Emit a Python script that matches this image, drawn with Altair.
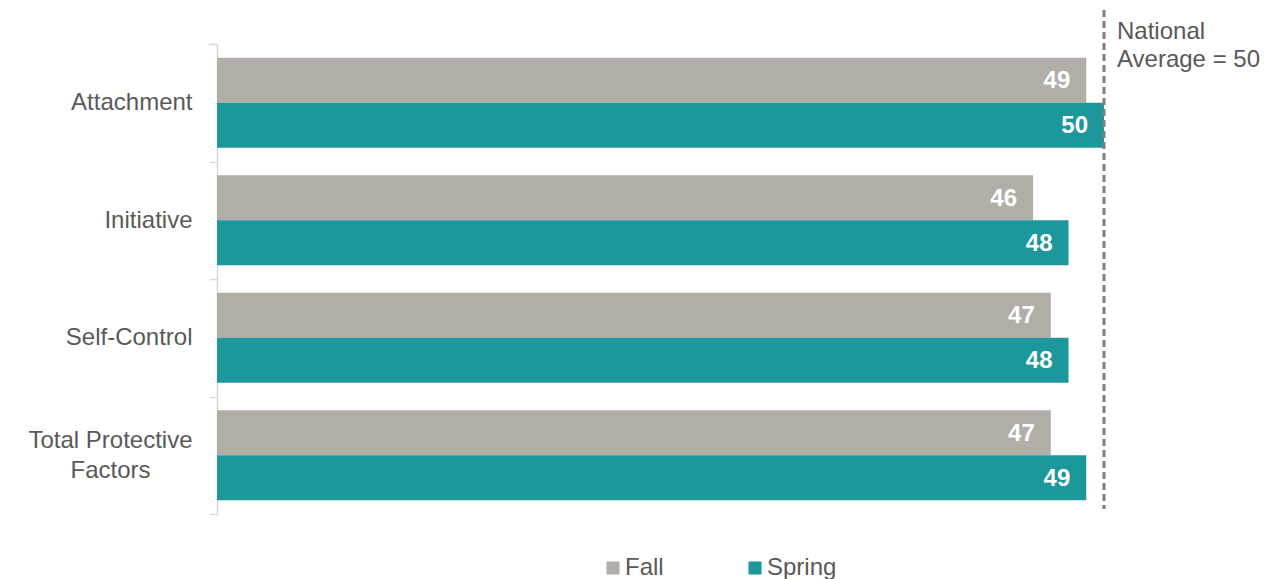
import altair as alt
import pandas as pd

categories = ["Attachment", "Initiative", "Self-Control", "Total Protective Factors"]
fall = [49, 46, 47, 47]
spring = [50, 48, 48, 49]
seasons = ["Fall", "Spring"]
national_average = 50

rows = []
for c, f, s in zip(categories, fall, spring):
    rows.append({"category": c, "season": "Fall", "value": f})
    rows.append({"category": c, "season": "Spring", "value": s})
df = pd.DataFrame(rows)
ref = pd.DataFrame({"avg": [national_average], "label": [["National", "Average = 50"]]})

FONT = "Liberation Sans"
GRAY_TXT = "#595959"
MULTI = "datum.value == 'Total Protective Factors'"

y_enc = alt.Y(
    "category:N",
    sort=categories,
    title=None,
    scale=alt.Scale(paddingInner=0, paddingOuter=0),
    axis=alt.Axis(
        tickBand="extent",
        domainColor="#d9d9d9",
        domainWidth=1.5,
        tickColor="#d9d9d9",
        tickWidth=1.5,
        tickSize=8,
        labelFontSize=24,
        labelFont=FONT,
        labelColor=GRAY_TXT,
        labelAlign={"condition": {"test": MULTI, "value": "center"}, "value": "right"},
        labelPadding={"condition": {"test": MULTI, "value": 99}, "value": 17},
        labelOffset={"condition": {"test": MULTI, "value": -15}, "value": 0},
        labelLineHeight=30,
        labelLimit=400,
        labelExpr="datum.label == 'Total Protective Factors' ? ['Total Protective', 'Factors'] : datum.label",
    ),
)
yoff = alt.YOffset("season:N", sort=seasons, scale=alt.Scale(paddingInner=0, paddingOuter=0.3056))
x_enc = alt.X("value:Q", scale=alt.Scale(domain=[0, 50], nice=False, zero=True), axis=None, title=None)

bars = alt.Chart(df).mark_bar().encode(
    x=x_enc,
    y=y_enc,
    yOffset=yoff,
    color=alt.Color(
        "season:N",
        sort=seasons,
        scale=alt.Scale(domain=seasons, range=["#b1ada7", "#1c979b"]),
        legend=alt.Legend(
            title=None,
            orient="none",
            direction="horizontal",
            legendX=384,
            legendY=512,
            symbolType="square",
            symbolSize=170,
            symbolStrokeWidth=0,
            labelFontSize=24,
            labelFont=FONT,
            labelColor=GRAY_TXT,
            labelOffset=0,
            columnPadding=79,
        ),
    ),
)

labels = alt.Chart(df).mark_text(
    align="right", baseline="middle", dx=-16, dy=1, color="white",
    fontWeight="bold", fontSize=24, font=FONT
).encode(x="value:Q", y=alt.Y("category:N", sort=categories), yOffset=yoff, text="value:Q")

rule = alt.Chart(ref).mark_rule(color="#7f7f7f", strokeWidth=3, strokeDash=[7, 4]).encode(
    x="avg:Q", y=alt.value(-34), y2=alt.value(465)
)
ref_text = alt.Chart(ref).mark_text(
    align="left", baseline="top", dx=13, fontSize=24, font=FONT, color=GRAY_TXT, lineHeight=28
).encode(x="avg:Q", y=alt.value(-24), text="label")

chart = alt.layer(bars, labels, rule, ref_text).properties(
    width=887, height=470, padding={"left": 19, "top": 0, "right": 5, "bottom": 5}
).configure_view(stroke=None)

chart.save("out.html", embed_options={"renderer": "svg", "actions": False})
